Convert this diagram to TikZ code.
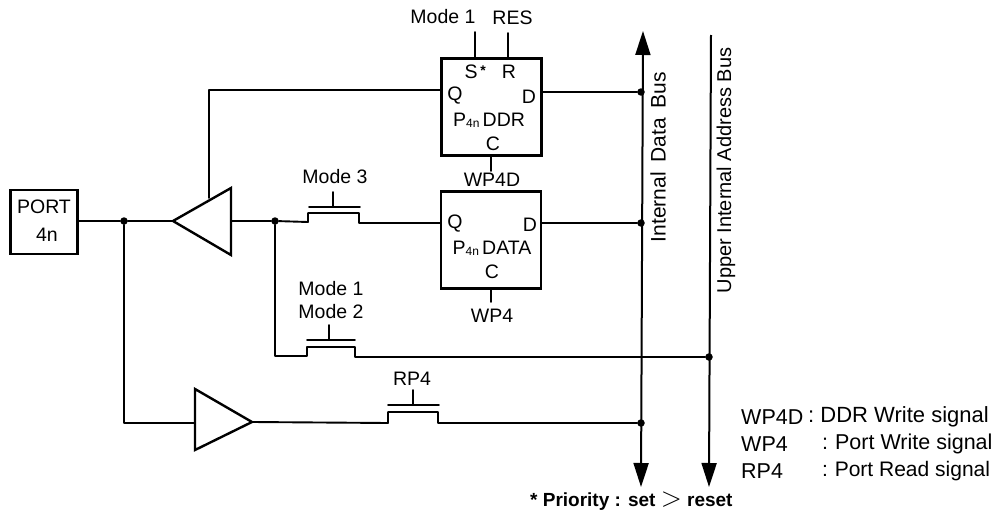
\documentclass[tikz,border=0pt]{standalone}
\usepackage{fontspec}
\usepackage{graphicx}
\setmainfont{Liberation Sans}
\usetikzlibrary{arrows.meta}
\tikzset{
  wire/.style={line width=1.9pt,line cap=round,line join=round},
  blockbox/.style={draw,line width=2.6pt,minimum width=100pt,minimum height=97pt,inner sep=0pt},
  lbl/.style={inner sep=0pt,font=\fontsize{19.5}{22}\selectfont},
  keylbl/.style={inner sep=0pt,anchor=west,font=\fontsize{21.5}{24}\selectfont},
  bus/.style={line width=2pt,-{Triangle[length=24pt,width=15pt]}},
  dot/.style={circle,fill=black,inner sep=0pt,minimum size=7.5pt},
  tri/.style={line width=2.4pt,line join=miter},
}
\begin{document}
\begin{tikzpicture}[x=1pt,y=-1pt]
\useasboundingbox (0,0) rectangle (997,514);
% blocks
\node[blockbox] (ddr) at (491.5,107) {};
\node[blockbox] (data) at (491,240) {};
\node[draw,line width=2.6pt,minimum width=67pt,minimum height=64pt,inner sep=0pt] (port) at (44,222) {};
\node[lbl] (portA) at (44,207) {PORT};
\node[lbl] (portB) at (47,235) {4n};
% block labels
\node[lbl] (ddrS) at (471,72) {S};
\node[font=\fontsize{14}{14}\selectfont\bfseries,inner sep=0pt] (ddrStar) at (483,71) {*};
\node[lbl] (ddrR) at (509,72) {R};
\node[lbl] (ddrQ) at (455,96) {Q};
\node[lbl] (ddrD) at (529,97) {D};
\node[lbl] (ddrN) at (489,120) {P{\fontsize{12}{12}\selectfont\raisebox{-1pt}{4n}}\,DDR};
\node[lbl] (ddrC) at (493,144) {C};
\node[lbl] (dataQ) at (455,224) {Q};
\node[lbl] (dataD) at (530,225) {D};
\node[lbl] (dataN) at (492,248) {P{\fontsize{12}{12}\selectfont\raisebox{-1pt}{4n}}\,DATA};
\node[lbl] (dataC) at (492,272) {C};
\node[lbl] (wpd) at (492,180) {WP4D};
\node[lbl] (wp) at (492,316) {WP4};
\node[lbl] (m1a) at (443,17) {Mode 1};
\node[lbl] (res) at (512.5,18) {RES};
\node[lbl] (m3) at (335,177) {Mode 3};
\node[lbl] (m1b) at (331,289) {Mode 1};
\node[lbl] (m2) at (331,312) {Mode 2};
\node[lbl] (rp) at (412,379) {RP4};
\node[lbl,rotate=90,font=\fontsize{21}{23}\selectfont] (dbus) at (658,157) {Internal\hspace{4pt} Data\hspace{4pt} Bus};
\node[lbl,rotate=90,font=\fontsize{20}{22}\selectfont] (abus) at (726,170.5) {Upper Internal Address Bus};
\node[keylbl] (k1) at (741,417) {WP4D};
\node[keylbl,font=\fontsize{22}{24}\selectfont] (k1t) at (808,417) {:\hspace{-2pt} DDR Write signal};
\node[keylbl] (k2) at (741,444) {WP4};
\node[keylbl] (k2t) at (822,444) {:\hspace{-1pt} Port Write signal};
\node[keylbl] (k3) at (741,471) {RP4};
\node[keylbl,font=\fontsize{21}{24}\selectfont] (k3t) at (822,471) {:\hspace{-1pt} Port Read signal};
\node[font=\fontsize{19}{21}\selectfont\bfseries,inner sep=0pt,anchor=west] (prio) at (530,501) {* Priority : set \scalebox{1.6}{$>$} reset};
% buffers
\coordinate (ba) at (173,221);
\coordinate (bt) at (231,188);
\coordinate (bb) at (231,255);
\draw[tri] (ba) -- (bt) -- (bb) -- cycle;
\coordinate (ca) at (252,422);
\coordinate (ct) at (195,389);
\coordinate (cb) at (195,450);
\draw[tri] (ca) -- (ct) -- (cb) -- cycle;
% junctions
\node[dot] (j1) at (124,221) {};
\node[dot] (j2) at (275,221) {};
\node[dot] (j3) at (641,92) {};
\node[dot] (j4) at (641,223) {};
\node[dot] (j5) at (641,423) {};
\node[dot] (j6) at (709,357) {};
% buses
\coordinate (dt) at (643,31);
\coordinate (db) at (641,487);
\coordinate (dm) at (642,260);
\draw[bus] (dm) -- (dt);
\draw[bus] (dm) -- (db);
\coordinate (at) at (711,35);
\coordinate (ab) at (709,487);
\draw[bus] (at) -- (ab);
% wires
\draw[wire] (port.east |- j1) -- (j1) -- (ba);
\draw[wire] (j1) |- (195,423) coordinate (cin);
\draw[wire] (bb |- j2) -- (j2);
% Mode 3 switch
\draw[wire] (j2) -- (308,222) |- (359,213) |- (ddr.west |- 0,223) coordinate (dq);
\draw[wire] (309,207) coordinate (g1) -- (360,207) coordinate (g2);
\coordinate (g3) at (333,192);
\draw[wire] (g3) -- (g3 |- g1);
% Q of DDR into buffer
\draw[wire] (ddr.west |- 0,90) -| (209,198);
% D lines
\draw[wire] (ddr.east |- j3) -- (j3);
\draw[wire] (data.east |- j4) -- (j4);
% Mode1/2 switch
\draw[wire] (j2) |- (307,356) |- (355,347) |- (j6);
\draw[wire] (307,340) coordinate (h1) -- (355,340);
\coordinate (h3) at (329,325);
\draw[wire] (h3) -- (h3 |- h1);
% RP4 switch
\draw[wire] (ca) -- (388,423) |- (438,412) |- (j5);
\draw[wire] (388,405) coordinate (i1) -- (439,405);
\coordinate (i3) at (413,390);
\draw[wire] (i3) -- (i3 |- i1);
% stubs
\draw[wire] (475,32) coordinate (s1) -- (s1 |- ddr.north);
\draw[wire] (508,33) coordinate (s2) -- (s2 |- ddr.north);
\draw[wire] (491,157) coordinate (s3) -- (491,171);
\draw[wire] (491,289) coordinate (s4) -- (491,302);
\end{tikzpicture}
\end{document}
